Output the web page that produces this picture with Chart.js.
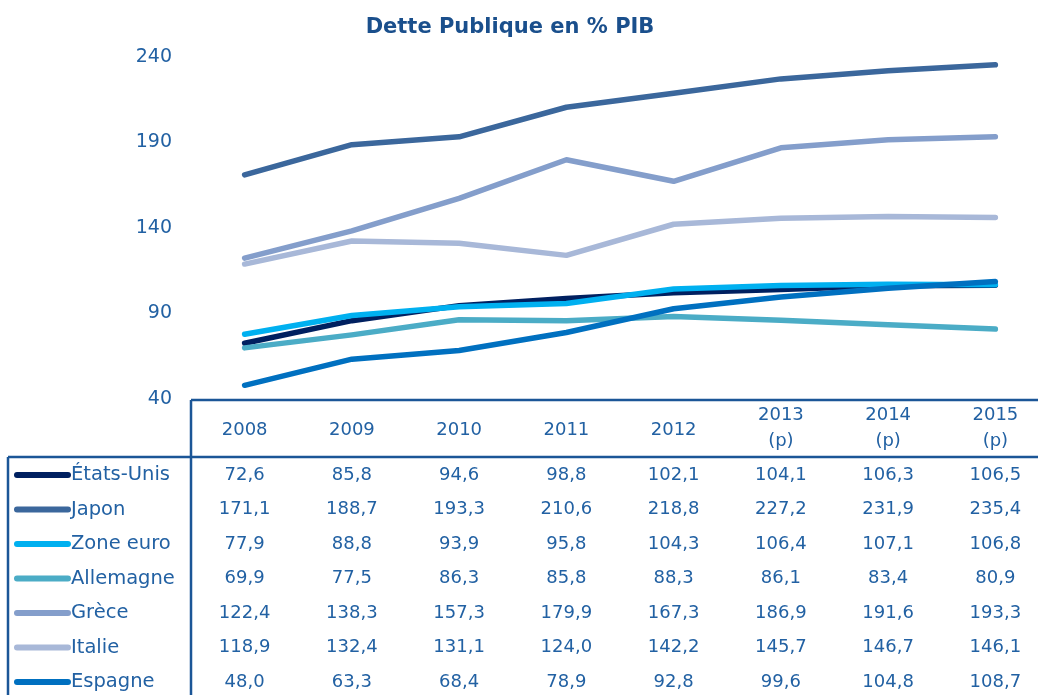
<!DOCTYPE html>
<html>
<head>
<meta charset="utf-8">
<script src="https://cdn.jsdelivr.net/npm/chart.js@4/dist/chart.umd.min.js"></script>
<style>
  html, body { margin: 0; padding: 0; background: #fff; overflow: hidden; }
  #wrap { width: 1038px; height: 695px; overflow: hidden; }
</style>
</head>
<body>
<div id="wrap"><canvas id="dette" width="1050" height="695"></canvas></div>
<script>
// années (les trois dernières sont des prévisions)
const annees = ['2008', '2009', '2010', '2011', '2012', '2013', '2014', '2015'];
const enTete = [['2008'], ['2009'], ['2010'], ['2011'], ['2012'], ['2013', '(p)'], ['2014', '(p)'], ['2015', '(p)']];
const yTicks = [40, 90, 140, 190, 240];

const pays = ['États-Unis', 'Japon', 'Zone euro', 'Allemagne', 'Grèce', 'Italie', 'Espagne'];
const etatsUnis = [72.6, 85.8, 94.6, 98.8, 102.1, 104.1, 106.3, 106.5];
const japon = [171.1, 188.7, 193.3, 210.6, 218.8, 227.2, 231.9, 235.4];
const zoneEuro = [77.9, 88.8, 93.9, 95.8, 104.3, 106.4, 107.1, 106.8];
const allemagne = [69.9, 77.5, 86.3, 85.8, 88.3, 86.1, 83.4, 80.9];
const grece = [122.4, 138.3, 157.3, 179.9, 167.3, 186.9, 191.6, 193.3];
const italie = [118.9, 132.4, 131.1, 124.0, 142.2, 145.7, 146.7, 146.1];
const espagne = [48.0, 63.3, 68.4, 78.9, 92.8, 99.6, 104.8, 108.7];

const series = [etatsUnis, japon, zoneEuro, allemagne, grece, italie, espagne];
const couleurs = ['#002060', '#3B679C', '#00B0F0', '#4BACC6', '#849ECB', '#A8B8D8', '#0070C0'];

const bleuTexte = '#2261A3';
const bleuTrait = '#1B5697';
const police = '"DejaVu Sans", sans-serif';

// format français : virgule décimale
function fmt(v) {
    return v.toFixed(1).replace('.', ',');
}

// tableau de données + titre, dessinés sous le graphique
const tableauPlugin = {
    id: 'tableau',
    afterDraw(chart) {
        const ctx = chart.ctx;
        const x = chart.scales.x;
        const area = chart.chartArea;
        const haut = area.bottom + 1;
        const ligneEnTete = 457;
        const premiereLigne = 475;
        const pas = 34.5;

        ctx.save();

        // titre
        ctx.fillStyle = '#1A4F8C';
        ctx.font = 'bold 21px ' + police;
        ctx.textAlign = 'center';
        ctx.textBaseline = 'middle';
        ctx.fillText('Dette Publique en % PIB', 510, 28);

        // traits du tableau
        ctx.strokeStyle = bleuTrait;
        ctx.lineWidth = 2.5;
        ctx.beginPath();
        ctx.moveTo(area.left, haut);
        ctx.lineTo(chart.width, haut);
        ctx.moveTo(area.left, haut);
        ctx.lineTo(area.left, chart.height);
        ctx.moveTo(8, ligneEnTete);
        ctx.lineTo(chart.width, ligneEnTete);
        ctx.moveTo(8, ligneEnTete);
        ctx.lineTo(8, chart.height);
        ctx.stroke();

        // en-tête des années
        ctx.fillStyle = bleuTexte;
        ctx.font = '18px ' + police;
        ctx.textAlign = 'center';
        enTete.forEach((lignes, i) => {
            const cx = x.getPixelForValue(i);
            if (lignes.length === 1) {
                ctx.fillText(lignes[0], cx, 430);
            } else {
                ctx.fillText(lignes[0], cx, 415);
                ctx.fillText(lignes[1], cx, 441);
            }
        });

        // lignes : légende + valeurs
        series.forEach((valeurs, r) => {
            const cy = premiereLigne + r * pas;
            ctx.strokeStyle = couleurs[r];
            ctx.lineWidth = 6;
            ctx.lineCap = 'round';
            ctx.beginPath();
            ctx.moveTo(17, cy);
            ctx.lineTo(68, cy);
            ctx.stroke();

            ctx.fillStyle = bleuTexte;
            ctx.font = '19.5px ' + police;
            ctx.textAlign = 'left';
            ctx.fillText(pays[r], 71, cy);

            ctx.font = '18px ' + police;
            ctx.textAlign = 'center';
            valeurs.forEach((v, i) => {
                ctx.fillText(fmt(v), x.getPixelForValue(i), cy);
            });
        });

        ctx.restore();
    }
};

const ctx = document.getElementById('dette').getContext('2d');
const chart = new Chart(ctx, {
    type: 'line',
    data: {
        labels: annees,
        datasets: series.map((valeurs, i) => ({
            label: pays[i],
            data: valeurs,
            borderColor: couleurs[i],
            backgroundColor: couleurs[i],
            borderWidth: 5.5,
            borderCapStyle: 'round',
            borderJoinStyle: 'round',
            pointRadius: 0,
            tension: 0,
            fill: false,
            order: series.length - i
        }))
    },
    options: {
        responsive: false,
        animation: false,
        layout: {
            padding: { top: 57, right: 1, bottom: 296, left: 0 }
        },
        plugins: {
            legend: { display: false },
            title: { display: false },
            tooltip: { enabled: false }
        },
        scales: {
            x: {
                display: false,
                offset: true
            },
            y: {
                min: 40,
                max: 240,
                afterFit(scale) {
                    scale.width = 191;
                },
                afterBuildTicks(scale) {
                    scale.ticks = yTicks.map(v => ({ value: v }));
                },
                grid: { display: false },
                border: { display: false },
                ticks: {
                    padding: 11,
                    color: bleuTexte,
                    font: { family: police, size: 19 }
                }
            }
        }
    },
    plugins: [tableauPlugin]
});
</script>
</body>
</html>
